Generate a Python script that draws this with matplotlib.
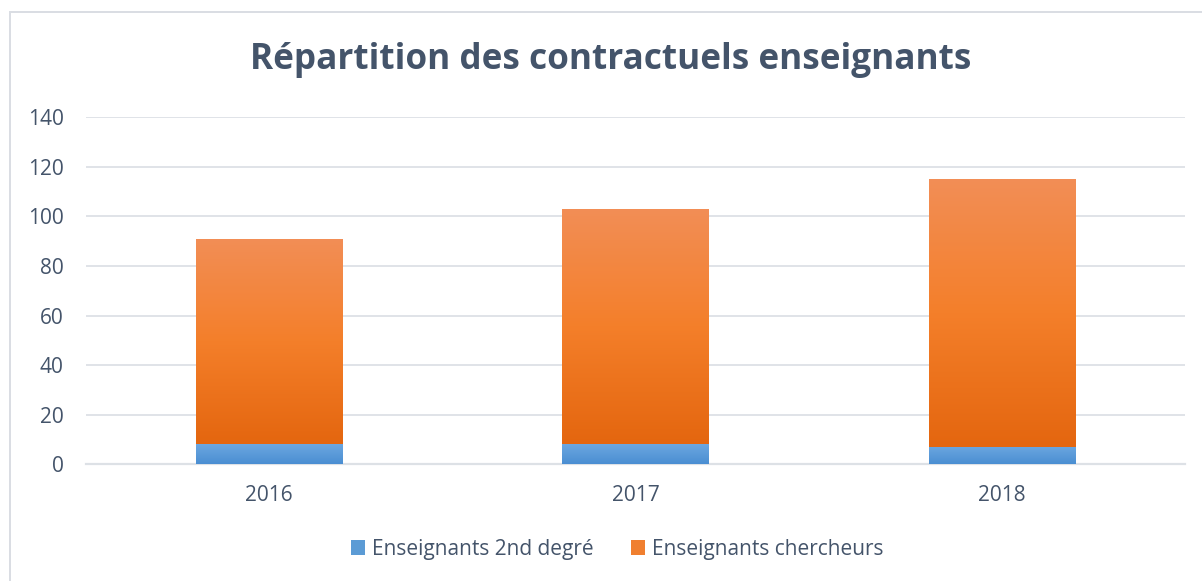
import matplotlib
matplotlib.use("Agg")
import matplotlib.pyplot as plt
import numpy as np
from matplotlib.patches import Rectangle, Patch
from matplotlib.colors import LinearSegmentedColormap

years = ["2016", "2017", "2018"]
second_degre = [8, 8, 7]
chercheurs = [83, 95, 108]
series_names = ["Enseignants 2nd degré", "Enseignants chercheurs"]
title = "Répartition des contractuels enseignants"

W, H = 1202, 581
fig = plt.figure(figsize=(W / 100, H / 100), dpi=100)
fig.patch.set_facecolor("white")

# outer chart border
fig.patches.append(Rectangle((10 / W, -0.01), 1.02, 1 - 12 / H + 0.01, transform=fig.transFigure,
                             fill=False, edgecolor="#D9DDE3", linewidth=1.4))

ax = fig.add_axes([86 / W, 1 - 464.3 / H, (1185 - 86) / W, (464.3 - 117.3) / H])
x = np.arange(len(years))
width = 0.40

blue_cmap = LinearSegmentedColormap.from_list("b", ["#4A8ED2", "#6CA7E0"])
orange_cmap = LinearSegmentedColormap.from_list("o", ["#E4660F", "#F47F2A", "#F28E56"])

b1 = ax.bar(x, second_degre, width, color="#5B9BD5", edgecolor="none", zorder=2, label=series_names[0])
b2 = ax.bar(x, chercheurs, width, bottom=second_degre, color="#ED7D31", edgecolor="none", zorder=2,
            label=series_names[1])

grad = np.linspace(0, 1, 256).reshape(-1, 1)
for bars, cmap in ((b1, blue_cmap), (b2, orange_cmap)):
    for r in bars:
        x0, y0 = r.get_x(), r.get_y()
        im = ax.imshow(grad, cmap=cmap, origin="lower", aspect="auto",
                       extent=(x0, x0 + r.get_width(), y0, y0 + r.get_height()), zorder=3)
        im.set_clip_path(r)

ax.set_xlim(-0.5, len(years) - 0.5)
ax.set_ylim(0, 140)
ax.set_yticks(range(0, 141, 20))
ax.set_xticks(x)
ax.set_xticklabels(years)
ax.grid(axis="y", color="#DDE1E6", linewidth=1.3, zorder=0)
ax.set_axisbelow(True)
for s in ("top", "right", "left"):
    ax.spines[s].set_visible(False)
ax.spines["bottom"].set_color("#DDE1E6")
ax.spines["bottom"].set_linewidth(1.6)
ax.tick_params(axis="both", length=0, labelsize=15, labelcolor="#44546A")
ax.tick_params(axis="x", pad=15)
ax.tick_params(axis="y", pad=16)
for lbl in ax.get_yticklabels() + ax.get_xticklabels():
    lbl.set_fontfamily("Open Sans")

fig.text(611 / W, 1 - 60 / H, title, ha="center", va="center", fontsize=25.3, fontweight="bold",
         color="#44546A", family="Open Sans")

handles = [Patch(facecolor="#5B9BD5"), Patch(facecolor="#F07F2F")]
leg = fig.legend(handles, series_names, loc="center", bbox_to_anchor=(617 / W, 1 - 549 / H), ncol=2,
                 frameon=False, handlelength=0.7, handleheight=0.7, handletextpad=0.3,
                 columnspacing=1.8, prop={"family": "Open Sans", "size": 15})
for t in leg.get_texts():
    t.set_color("#44546A")

fig.savefig("out.png", dpi=100, facecolor="white")
